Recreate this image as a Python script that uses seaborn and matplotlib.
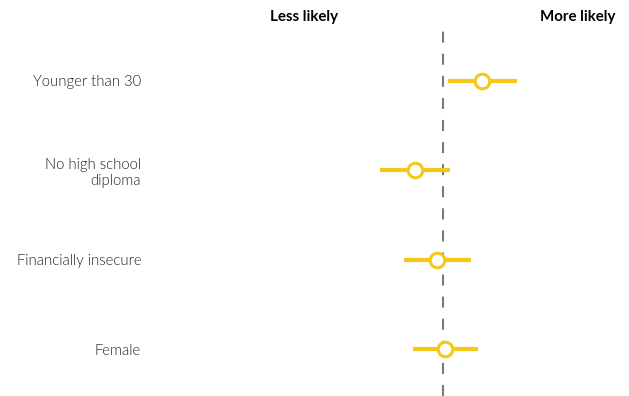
import seaborn as sns
import matplotlib
matplotlib.use("Agg")
import matplotlib.pyplot as plt
import pandas as pd

# categories (top to bottom) and estimates with interval bounds
categories = ["Younger than 30", "No high school\ndiploma", "Financially insecure", "Female"]
estimates = [0.39, -0.28, -0.06, 0.02]
lower = [0.05, -0.63, -0.39, -0.30]
upper = [0.74, 0.07, 0.28, 0.35]
header_labels = ["Less likely", "More likely"]
header_x = [-1.39, 1.35]

yellow = "#f5c818"

sns.set_theme(style="white")
plt.rcParams["font.family"] = ["Lato", "DejaVu Sans"]

df = pd.DataFrame({"category": categories, "estimate": estimates,
                   "lower": lower, "upper": upper})

fig = plt.figure(figsize=(6.29, 3.96), dpi=100)
ax = fig.add_axes([0.24, 0.0, 0.76, 0.932])

# zero reference line
ax.axvline(0, color="#7a7a7a", linewidth=1.5, dashes=(5.3, 5.3), zorder=1)

# intervals
ax.hlines(y=range(len(df)), xmin=df["lower"], xmax=df["upper"],
          color=yellow, linewidth=3, zorder=2)

# point estimates
sns.scatterplot(data=df, x="estimate", y="category", ax=ax, s=110,
                color="white", edgecolor=yellow, linewidth=2.2, zorder=3)

ax.set_xlim(-2.92, 1.86)
ax.set_ylim(3.52, -0.60)
ax.set_xlabel("")
ax.set_ylabel("")
ax.set_xticks([])
ax.tick_params(axis="y", length=0, pad=7)
for lab in ax.get_yticklabels():
    lab.set_fontweight(300)
    lab.set_fontsize(10.7)
    lab.set_color("#222222")
    lab.set_multialignment("right")
sns.despine(ax=ax, left=True, bottom=True)

for label, x in zip(header_labels, header_x):
    ax.annotate(label, xy=(x, 1 - 17 / 396), xycoords=("data", "figure fraction"),
                ha="center", va="center", fontsize=10.8, fontweight="bold",
                color="black")

plt.savefig("out.png", dpi=100)
plt.close()
